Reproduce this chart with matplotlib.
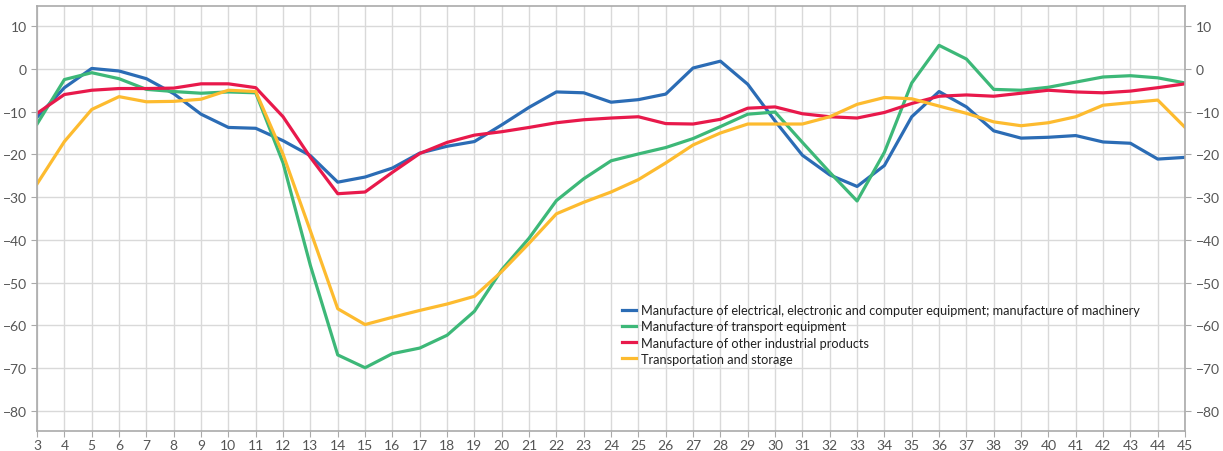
import matplotlib
matplotlib.use("Agg")
from matplotlib import pyplot as plt

plt.rcParams['font.family'] = ['Lato', 'DejaVu Sans']

# weeks 3..45
weeks = list(range(3, 46))

electrical = [-11.3, -4.4, 0.1, -0.5, -2.3, -5.8, -10.6, -13.7, -13.9, -16.8,
              -20.3, -26.5, -25.3, -23.2, -19.7, -18.1, -17.0, -13.1, -9.0, -5.4,
              -5.6, -7.8, -7.2, -5.9, 0.2, 1.8, -3.6, -12.2, -20.2, -24.8,
              -27.5, -22.6, -11.2, -5.3, -8.9, -14.5, -16.2, -16.0, -15.6, -17.1,
              -17.4, -21.1, -20.7]

transport_eq = [-12.9, -2.5, -0.9, -2.3, -4.8, -5.3, -5.7, -5.4, -5.6, -22.0,
                -46.0, -66.9, -69.9, -66.6, -65.3, -62.3, -56.7, -47.0, -39.6, -30.8,
                -25.7, -21.5, -19.9, -18.4, -16.3, -13.5, -10.6, -10.1, -17.2, -24.2,
                -30.9, -19.5, -3.3, 5.5, 2.3, -4.8, -5.0, -4.3, -3.1, -1.9,
                -1.6, -2.1, -3.3]

other_ind = [-10.4, -6.0, -5.0, -4.6, -4.6, -4.5, -3.5, -3.5, -4.4, -11.2,
             -20.7, -29.2, -28.8, -24.2, -19.8, -17.2, -15.5, -14.7, -13.7, -12.6,
             -11.9, -11.5, -11.2, -12.8, -12.9, -11.8, -9.2, -8.9, -10.5, -11.2,
             -11.5, -10.2, -8.1, -6.4, -6.1, -6.4, -5.7, -5.0, -5.4, -5.6,
             -5.2, -4.4, -3.5]

transportation = [-26.9, -17.0, -9.5, -6.5, -7.7, -7.6, -7.1, -5.0, -5.3, -20.0,
                  -37.9, -56.1, -59.8, -58.1, -56.5, -55.0, -53.2, -47.4, -40.8, -33.9,
                  -31.2, -28.8, -25.9, -22.0, -17.8, -15.0, -12.9, -12.9, -12.9, -11.2,
                  -8.3, -6.7, -7.0, -8.7, -10.4, -12.4, -13.3, -12.6, -11.2, -8.5,
                  -7.9, -7.3, -13.7]

labels = ["Manufacture of electrical, electronic and computer equipment; manufacture of machinery",
          "Manufacture of transport equipment",
          "Manufacture of other industrial products",
          "Transportation and storage"]
colors = ['#2B6CB5', '#3DB878', '#E8194B', '#FDBB2F']

fig = plt.figure(figsize=(12.23, 4.52), dpi=100)
ax = fig.add_axes([0.0303, 0.0442, 0.9387, 0.9403])

for y, lab, c in zip([electrical, transport_eq, other_ind, transportation], labels, colors):
    ax.plot(weeks, y, color=c, lw=2.3, label=lab)

ax.set_xlim(3, 45)
ax.set_ylim(-84.7, 14.7)
ax.set_xticks(weeks)
ax.set_yticks(range(-80, 11, 10))
ax.set_yticklabels([str(v).replace('-', '\u2212') for v in range(-80, 11, 10)])
ax.grid(True, color='#d9d9d9', lw=1)
ax.set_axisbelow(True)

for s in ax.spines.values():
    s.set_color('#aaaaaa')
    s.set_linewidth(1.2)

ax.tick_params(axis='both', colors='#aaaaaa', labelcolor='#555555', labelsize=10, length=4)
ax.tick_params(axis='y', which='both', right=True, labelright=True)
ax.tick_params(axis='x', pad=2)

leg = ax.legend(loc='upper left', bbox_to_anchor=(0.505, 0.31), frameon=False,
                fontsize=9.2, handlelength=1.1, handletextpad=0.4, labelspacing=0.32,
                borderaxespad=0)
for t in leg.get_texts():
    t.set_color('#222222')

fig.savefig('out.png', dpi=100)
